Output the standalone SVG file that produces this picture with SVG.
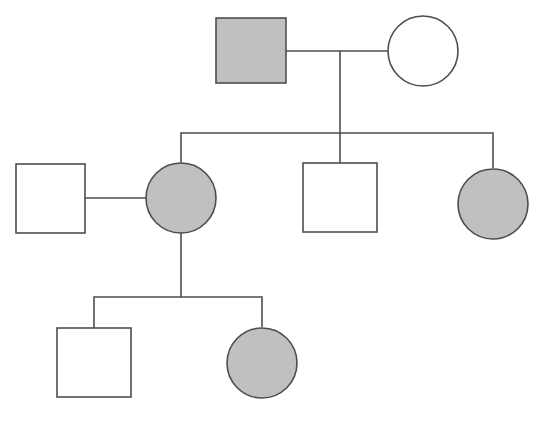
<svg xmlns="http://www.w3.org/2000/svg" width="543" height="424" viewBox="0 0 543 424">
<style>
.s{stroke:#4a4e54;stroke-width:1.6}
.a{fill:#c0c0c0}
.u{fill:#ffffff}
.c{fill:none;stroke:#4a4e54;stroke-width:1.6}
</style>
<rect width="543" height="424" fill="#ffffff"/>
<g id="connectors">
<path class="c" d="M286,51 H388"/>
<path class="c" d="M340,51 V133"/>
<path class="c" d="M181,163 V133 H493 V168"/>
<path class="c" d="M340,133 V163"/>
<path class="c" d="M85,198 H146"/>
<path class="c" d="M181,233 V297"/>
<path class="c" d="M94,328 V297 H262 V327"/>
</g>
<g id="grandfather"><rect class="s a" x="216" y="18" width="70" height="65"/></g>
<g id="grandmother"><circle class="s u" cx="423" cy="51" r="35"/></g>
<g id="spouse"><rect class="s u" x="16" y="164" width="69" height="69"/></g>
<g id="daughter1"><circle class="s a" cx="181" cy="198" r="35"/></g>
<g id="son"><rect class="s u" x="303" y="163" width="74" height="69"/></g>
<g id="daughter2"><circle class="s a" cx="493" cy="204" r="35"/></g>
<g id="grandson"><rect class="s u" x="57" y="328" width="74" height="69"/></g>
<g id="granddaughter"><circle class="s a" cx="262" cy="363" r="35"/></g>
</svg>
